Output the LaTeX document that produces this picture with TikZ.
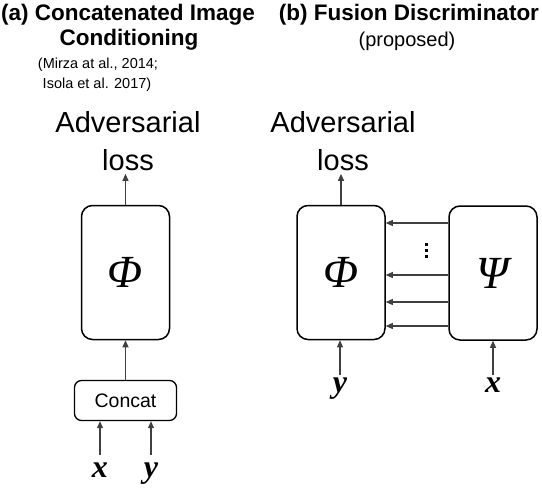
\documentclass[tikz,border=0pt]{standalone}
\usepackage{fontspec}
\setmainfont{Liberation Sans}
\newfontfamily\grkfont{Liberation Serif}
\usetikzlibrary{positioning}
\usetikzlibrary{arrows.meta}

\begin{document}
\begin{tikzpicture}[x=1pt,y=-1pt,>={Triangle[length=7pt,width=6pt]},
	net node/.style={shape=rectangle,rounded corners=11pt,draw=black,line width=1.5pt,minimum width=88pt,minimum height=134pt,inner sep=0,font=\grkfont\itshape\fontsize{46}{46}\selectfont},
	cat node/.style={shape=rectangle,rounded corners=7pt,draw=black,line width=1.3pt,minimum width=102pt,minimum height=40pt,inner sep=0,font=\fontsize{19.5}{19.5}\selectfont},
	var node/.style={anchor=base,inner sep=0,font=\grkfont\bfseries\itshape\fontsize{32}{32}\selectfont},
	loss node/.style={align=center,inner sep=0,font=\fontsize{29}{38}\selectfont},
	title node/.style={anchor=base,inner sep=0,font=\bfseries\fontsize{22.5}{22.5}\selectfont},
	note node/.style={anchor=base,inner sep=0,font=\fontsize{14.5}{14.5}\selectfont},
	feed/.style={->,line width=1.1pt,draw=black!75,fill=black},
	]
	\useasboundingbox (0,0) rectangle (542,490);
	%titles
	\node[title node] (titleA) at (128,20){(a) Concatenated Image};
	\node[title node] (condA) at (129,45){Conditioning};
	\node[note node] (citeA1) at (98,68){(Mirza at al., 2014;};
	\node[note node] (citeA2) at (97,88){Isola et al. 2017)};
	\node[title node] (titleB) at (409,20){(b) Fusion Discriminator};
	\node[note node,font=\fontsize{20}{20}\selectfont] (propB) at (407,46){(proposed)};
	
	%(a) concatenated conditioning
	\node[net node] (phiA) at (125.5,272.5){Φ};
	\node[cat node] (concat) at (125.5,400.5){Concat};
	\node[var node] (xA) at (100,477){x};
	\node[var node] (yA) at (151,477){y};
	\node[loss node] (lossA) at (128,141){Adversarial\\loss};
	\draw[feed,shorten <=7pt] (xA.north) -- (xA.north |- concat.south);
	\draw[feed,shorten <=7pt] (yA.north) -- (yA.north |- concat.south);
	\draw[feed] (concat) -- (phiA);
	\draw[feed,shorten >=3pt] (phiA.north) -- (phiA.north |- lossA.south);
	
	%(b) fusion discriminator
	\node[net node] (phiB) at (341,272.5){Φ};
	\node[net node] (psiB) at (493,273){Ψ};
	\node[var node] (yB) at (340,392){y};
	\node[var node] (xB) at (493,392){x};
	\node[loss node] (lossB) at (343,141){Adversarial\\loss};
	\draw[feed,shorten <=2pt] (yB.north) -- (yB.north |- phiB.south);
	\draw[feed,shorten <=2pt] (xB.north) -- (xB.north |- psiB.south);
	\draw[feed,shorten >=3pt] (phiB.north) -- (phiB.north |- lossB.south);
	\foreach \h in {223,275,302,326}
	{
		\draw[feed] (psiB.west |- 0,\h) -- (phiB.east |- 0,\h);
	}
	%vertical dots
	\foreach \d in {243,249,255}
	{
		\fill (424.5,\d) rectangle (427.5,\d+3);
	}
\end{tikzpicture}
\end{document}
